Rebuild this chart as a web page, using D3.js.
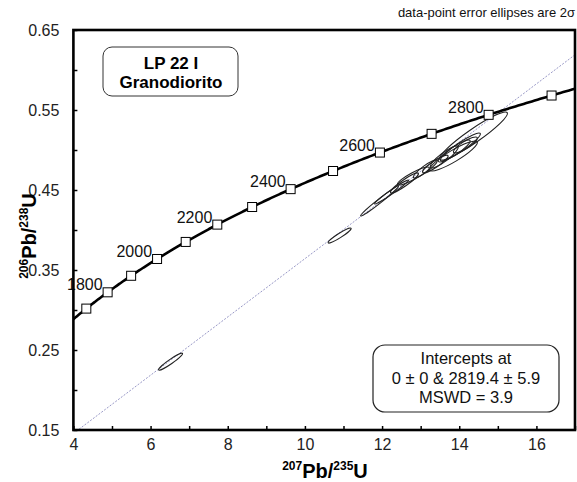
<!DOCTYPE html>
<html>
<head>
<meta charset="utf-8">
<script src="https://cdn.jsdelivr.net/npm/d3@7"></script>
<style>
  body { margin: 0; background: #fff; }
  svg { display: block; font-family: Arial, "Liberation Sans", Helvetica, sans-serif; }
</style>
</head>
<body>
<svg id="chart" width="577" height="482"></svg>
<script>
// U decay constants (per year)
const lambda238 = 1.55125e-10;
const lambda235 = 9.8485e-10;

// Concordia age markers (Ma) and the ones that carry a label
const markerAges = [1700, 1800, 1900, 2000, 2100, 2200, 2300, 2400, 2500, 2600, 2700, 2800, 2900];
const labelledAges = [1800, 2000, 2200, 2400, 2600, 2800];

// Axis ticks
const xTicks = [4, 5, 6, 7, 8, 9, 10, 11, 12, 13, 14, 15, 16, 17];
const xTickLabels = [4, 6, 8, 10, 12, 14, 16];
const yTicks = [0.15, 0.20, 0.25, 0.30, 0.35, 0.40, 0.45, 0.50, 0.55, 0.60, 0.65];
const yTickLabels = [0.15, 0.25, 0.35, 0.45, 0.55, 0.65];

// Discordia intercepts (Ma)
const lowerIntercept = 0;
const upperIntercept = 2819.4;

// Zircon spot analyses: ratios, 2-sigma absolute errors, error correlation
const pb207u235 = [6.518, 10.900, 11.935, 12.246, 12.580, 12.810, 13.120, 13.380, 13.610, 13.870, 14.030, 14.160, 13.850, 14.370];
const err207   = [0.311, 0.298, 0.492, 0.440, 0.362, 0.414, 0.310, 0.330, 0.362, 0.414, 0.518, 0.310, 0.621, 0.880];
const pb206u238 = [0.2354, 0.3931, 0.4363, 0.4475, 0.4588, 0.4675, 0.4763, 0.4825, 0.4913, 0.4988, 0.5038, 0.5063, 0.4925, 0.5175];
const err206   = [0.0106, 0.0094, 0.0188, 0.0150, 0.0125, 0.0113, 0.0113, 0.0110, 0.0138, 0.0138, 0.0175, 0.0100, 0.0188, 0.0300];
const rho      = [0.95, 0.94, 0.985, 0.98, 0.93, 0.90, 0.90, 0.90, 0.88, 0.90, 0.93, 0.85, 0.90, 0.94];

const svg = d3.select("#chart");
const m = { left: 73.4, right: 575, top: 30, bottom: 430 };

const x = d3.scaleLinear().domain([4, 17]).range([m.left, m.right]);
const y = d3.scaleLinear().domain([0.15, 0.65]).range([m.bottom, m.top]);

const conc = t => ({ x: Math.exp(lambda235 * t * 1e6) - 1, y: Math.exp(lambda238 * t * 1e6) - 1 });

const plot = svg.append("g");
svg.append("defs").append("clipPath").attr("id", "clip")
  .append("rect").attr("x", m.left).attr("y", m.top)
  .attr("width", m.right - m.left).attr("height", m.bottom - m.top);
const inner = plot.append("g").attr("clip-path", "url(#clip)");

// Discordia chord between the two intercepts
const lo = conc(lowerIntercept), hi = conc(upperIntercept);
const slope = (hi.y - lo.y) / (hi.x - lo.x);
inner.append("line")
  .attr("x1", x(4)).attr("y1", y(lo.y + slope * (4 - lo.x)))
  .attr("x2", x(17)).attr("y2", y(lo.y + slope * (17 - lo.x)))
  .attr("stroke", "#8c8cc0").attr("stroke-width", 0.9)
  .attr("stroke-dasharray", "2,1.5");

// Error ellipses
const data = pb207u235.map((v, i) => ({ x: v, y: pb206u238[i], ex: err207[i], ey: err206[i], r: rho[i] }));
inner.selectAll("ellipse.spot").data(data).join("ellipse")
  .attr("class", "spot")
  .each(function (d) {
    const hx = x(d.x + d.ex) - x(d.x);
    const hy = y(d.y) - y(d.y + d.ey);
    const a = hx * hx, c = hy * hy, b = -d.r * hx * hy;
    const mid = (a + c) / 2, dif = Math.sqrt(((a - c) / 2) ** 2 + b * b);
    const theta = 0.5 * Math.atan2(2 * b, a - c) * 180 / Math.PI;
    d3.select(this)
      .attr("cx", 0).attr("cy", 0)
      .attr("rx", Math.sqrt(mid + dif)).attr("ry", Math.sqrt(Math.max(mid - dif, 0.1)))
      .attr("transform", `translate(${x(d.x)},${y(d.y)}) rotate(${theta})`);
  })
  .attr("fill", "none").attr("stroke", "#222").attr("stroke-width", 1.1);

// Concordia curve
const tMin = Math.log(1 + 4) / lambda235 / 1e6;
const tMax = Math.log(1 + 17) / lambda235 / 1e6;
const curvePts = d3.range(tMin, tMax, (tMax - tMin) / 300).concat([tMax]).map(conc);
inner.append("path")
  .attr("d", d3.line().x(p => x(p.x)).y(p => y(p.y))(curvePts))
  .attr("fill", "none").attr("stroke", "#000").attr("stroke-width", 2.6);

// Age markers
const ms = 9;
plot.selectAll("rect.age").data(markerAges).join("rect")
  .attr("class", "age")
  .attr("x", t => x(conc(t).x) - ms / 2).attr("y", t => y(conc(t).y) - ms / 2)
  .attr("width", ms).attr("height", ms)
  .attr("fill", "#fff").attr("stroke", "#000").attr("stroke-width", 1);

plot.selectAll("text.age").data(labelledAges).join("text")
  .attr("class", "age")
  .attr("x", t => x(conc(t).x) - 5).attr("y", t => y(conc(t).y) - 2)
  .attr("text-anchor", "end").attr("font-size", 16).attr("fill", "#111")
  .text(t => t);

// Axes
const xAxis = d3.axisBottom(x).tickValues(xTicks).tickSize(-4)
  .tickFormat(v => xTickLabels.includes(v) ? v : "");
const gx = svg.append("g").attr("transform", `translate(0,${m.bottom})`).call(xAxis);
gx.select(".domain").remove();
gx.selectAll(".tick line").attr("stroke", "#000").attr("stroke-width", 1.5);
gx.selectAll(".tick text").attr("font-size", 16).attr("fill", "#222")
  .attr("font-family", "Arial, 'Liberation Sans', sans-serif").attr("dy", "1.05em");

const yAxis = d3.axisLeft(y).tickValues(yTicks).tickSize(-4)
  .tickFormat(v => yTickLabels.some(l => Math.abs(l - v) < 1e-9) ? d3.format(".2f")(v) : "");
const gy = svg.append("g").attr("transform", `translate(${m.left},0)`).call(yAxis);
gy.select(".domain").remove();
gy.selectAll(".tick line").attr("stroke", "#000").attr("stroke-width", 1.5);
gy.selectAll(".tick text").attr("font-size", 16).attr("fill", "#222")
  .attr("font-family", "Arial, 'Liberation Sans', sans-serif").attr("x", -14);

// Frame
svg.append("rect")
  .attr("x", m.left).attr("y", m.top)
  .attr("width", m.right - m.left).attr("height", m.bottom - m.top)
  .attr("fill", "none").attr("stroke", "#000").attr("stroke-width", 2.6);

// Axis titles
const xt = svg.append("text").attr("x", 325).attr("y", 478)
  .attr("text-anchor", "middle").attr("font-weight", "bold").attr("font-size", 20);
xt.append("tspan").attr("font-size", 12).attr("dy", -8).text("207");
xt.append("tspan").attr("dy", 8).text("Pb/");
xt.append("tspan").attr("font-size", 12).attr("dy", -8).text("235");
xt.append("tspan").attr("dy", 8).text("U");

const yt = svg.append("text").attr("transform", "translate(36,236) rotate(-90)")
  .attr("text-anchor", "middle").attr("font-weight", "bold").attr("font-size", 20);
yt.append("tspan").attr("font-size", 12).attr("dy", -8).text("206");
yt.append("tspan").attr("dy", 8).text("Pb/");
yt.append("tspan").attr("font-size", 12).attr("dy", -8).text("238");
yt.append("tspan").attr("dy", 8).text("U");

// Note above the plot
svg.append("text").attr("x", 575).attr("y", 17).attr("text-anchor", "end")
  .attr("font-size", 13).attr("fill", "#111").text("data-point error ellipses are 2\u03c3");

// Sample label
svg.append("rect").attr("x", 103).attr("y", 47).attr("width", 135).attr("height", 49)
  .attr("rx", 9).attr("fill", "#fff").attr("stroke", "#333").attr("stroke-width", 1);
svg.append("text").attr("x", 171).attr("y", 69).attr("text-anchor", "middle")
  .attr("font-weight", "bold").attr("font-size", 17).text("LP 22 I");
svg.append("text").attr("x", 171).attr("y", 88).attr("text-anchor", "middle")
  .attr("font-weight", "bold").attr("font-size", 17).text("Granodiorito");

// Intercept summary
svg.append("rect").attr("x", 373).attr("y", 345).attr("width", 186).attr("height", 67)
  .attr("rx", 12).attr("fill", "#fff").attr("stroke", "#222").attr("stroke-width", 1.2);
const summary = ["Intercepts at", `${lowerIntercept} \u00b1 0 & ${upperIntercept} \u00b1 5.9`, "MSWD = 3.9"];
svg.selectAll("text.sum").data(summary).join("text").attr("class", "sum")
  .attr("x", 466).attr("y", (d, i) => 364 + i * 19.5).attr("text-anchor", "middle")
  .attr("font-size", 16.5).attr("fill", "#111").text(d => d);
</script>
</body>
</html>
